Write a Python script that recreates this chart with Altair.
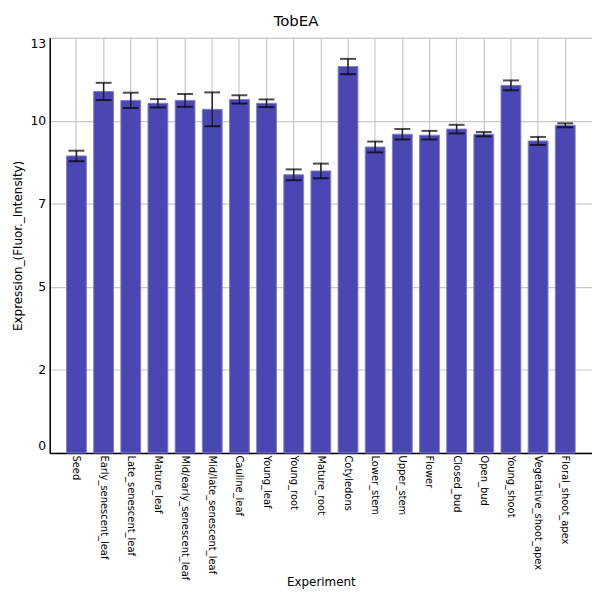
import altair as alt
import pandas as pd

categories = [
    "Seed", "Early_senescent_leaf", "Late_senescent_leaf", "Mature_leaf",
    "Mid/early_senescent_leaf", "Mid/late_senescent_leaf", "Cauline_leaf",
    "Young_leaf", "Young_root", "Mature_root", "Cotyledons", "Lower_stem",
    "Upper_stem", "Flower", "Closed_bud", "Open_bud", "Young_shoot",
    "Vegetative_shoot_apex", "Floral_shoot_apex",
]
values = [9.30, 11.32, 11.04, 10.95, 11.04, 10.76, 11.07, 10.95, 8.71, 8.83,
          12.10, 9.58, 9.98, 9.95, 10.14, 9.98, 11.51, 9.77, 10.26]
errors = [0.165, 0.27, 0.24, 0.13, 0.20, 0.53, 0.13, 0.12, 0.17, 0.23,
          0.24, 0.17, 0.165, 0.135, 0.135, 0.067, 0.155, 0.125, 0.062]
y_ticks = [0, 2.6, 5.2, 7.8, 10.4, 13]

df = pd.DataFrame({"Experiment": categories, "value": values, "err": errors})

FONT = "DejaVu Sans"

x_enc = alt.X(
    "Experiment:N", sort=categories,
    scale=alt.Scale(paddingInner=0.27, paddingOuter=0.62),
    axis=alt.Axis(
        title="Experiment", labelAngle=90, labelAlign="left", labelBaseline="middle",
        labelFontSize=10, labelFont=FONT, labelColor="black", labelPadding=2,
        ticks=False, grid=True, gridColor="#c8c8c8", gridWidth=1.2,
        domainColor="black", domainWidth=1.5,
        titleFont=FONT, titleFontSize=12, titleFontWeight="normal", titleColor="black",
        titleY=129.5, titleBaseline="middle", labelOverlap=False,
    ),
)

y_scale = alt.Scale(domain=[0, 13], nice=False, zero=True)

base = alt.Chart(df).transform_calculate(
    lo="datum.value - datum.err", hi="datum.value + datum.err"
)

bars = base.mark_bar(fill="#4a46b2", stroke="#817ecb", strokeWidth=1).encode(
    x=x_enc,
    y=alt.Y(
        "value:Q", scale=y_scale,
        axis=alt.Axis(
            title="Expression_(Fluor._Intensity)", values=y_ticks,
            labelExpr="floor(datum.value)", labelFlush=True,
            labelFontSize=12.5, labelFont=FONT, labelColor="black", labelPadding=4,
            ticks=False, grid=True, gridColor="#c8c8c8", gridWidth=1.2,
            domainColor="black", domainWidth=1.5,
            titleFont=FONT, titleFontSize=12, titleFontWeight="normal",
            titleColor="black", titleX=-32, titleBaseline="middle",
        ),
    ),
)

stems = base.mark_rule(color="#222222", strokeWidth=1.5).encode(
    x=alt.X("Experiment:N", sort=categories),
    y=alt.Y("lo:Q", scale=y_scale),
    y2="hi:Q",
)

caps_hi = base.mark_tick(color="black", size=16, thickness=2, orient="horizontal").encode(
    x=alt.X("Experiment:N", sort=categories),
    y=alt.Y("hi:Q", scale=y_scale),
)
caps_lo = base.mark_tick(color="black", size=16, thickness=2, orient="horizontal").encode(
    x=alt.X("Experiment:N", sort=categories),
    y=alt.Y("lo:Q", scale=y_scale),
)

chart = alt.layer(bars, stems, caps_hi, caps_lo).properties(
    width=546, height=418,
    title=alt.TitleParams(
        "TobEA", font=FONT, fontSize=15, fontWeight="normal", color="black",
        anchor="middle", frame="group", dx=-25, offset=-3, baseline="alphabetic",
    ),
    autosize=alt.AutoSizeParams(type="none"),
    padding={"left": 42, "top": 28, "right": 0, "bottom": 136},
).configure_view(fill="#e5e5e5", stroke=None).configure(background="white")

chart.save("out.html", embed_options={"renderer": "svg", "actions": False})
